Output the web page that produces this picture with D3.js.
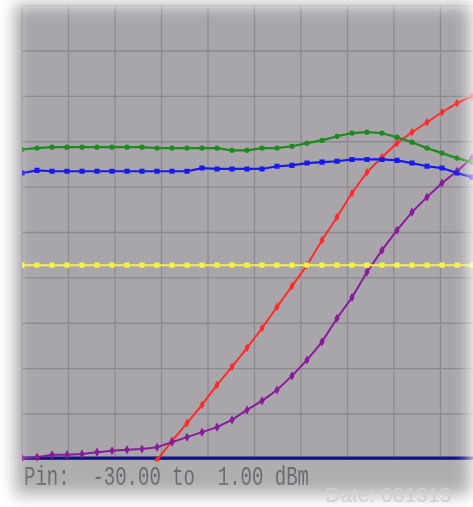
<!DOCTYPE html>
<html>
<head>
<meta charset="utf-8">
<script src="https://cdn.jsdelivr.net/npm/d3@7"></script>
<style>
  body { margin: 0; background: #fff; }
  svg { display: block; }
</style>
</head>
<body>
<div id="myChart"></div>
<script>
//----- data (y values in screen divisions, 0 = bottom line, 10 = top)

var pin = d3.range(-30, 2); // -30 ... 1 dBm, one point per dB

var redVals = [null, null, null, null, null, null, null, null, null, -0.02,
  0.41, 0.80, 1.20, 1.64, 2.04, 2.46, 2.89, 3.36, 3.82, 4.28,
  4.83, 5.34, 5.87, 6.33, 6.66, 6.97, 7.21, 7.43, 7.65, 7.85, 8.00, 8.14];

var purpleVals = [0.03, 0.05, 0.10, 0.10, 0.12, 0.16, 0.19, 0.21, 0.23, 0.27,
  0.38, 0.49, 0.60, 0.71, 0.87, 1.09, 1.29, 1.53, 1.84, 2.19,
  2.59, 3.11, 3.57, 4.13, 4.61, 5.05, 5.45, 5.78, 6.09, 6.35, 6.64, 6.86];

var greenVals = [6.83, 6.86, 6.88, 6.88, 6.88, 6.88, 6.88, 6.88, 6.88, 6.86,
  6.86, 6.86, 6.86, 6.86, 6.81, 6.81, 6.86, 6.86, 6.90, 6.97,
  7.03, 7.12, 7.19, 7.21, 7.19, 7.10, 6.99, 6.86, 6.75, 6.64, 6.55, 6.46];

var blueVals = [6.31, 6.37, 6.35, 6.35, 6.35, 6.35, 6.35, 6.35, 6.35, 6.35,
  6.35, 6.35, 6.42, 6.40, 6.40, 6.40, 6.40, 6.46, 6.48, 6.53,
  6.55, 6.57, 6.61, 6.61, 6.61, 6.59, 6.53, 6.46, 6.42, 6.31, 6.22, 6.13];

var yellowVals = pin.map(function() { return 4.28; });
var navyVals = pin.map(function() { return 0.03; });

var footer = "Pin:  -30.00 to  1.00 dBm";
var dateLabel = "Date: 081313";

//----- chart

var W = 473, H = 507;

var x = d3.scaleLinear().domain([-30, 1]).range([22, 487]);
var y = d3.scaleLinear().domain([0, 10]).range([459.4, 5.6]);

var svg = d3.select("#myChart").append("svg")
    .attr("width", W)
    .attr("height", H);

var defs = svg.append("defs");

// soft edges of the screenshot
var blur = defs.append("filter").attr("id", "soft")
    .attr("filterUnits", "userSpaceOnUse")
    .attr("x", -60).attr("y", -60).attr("width", W + 120).attr("height", H + 120);
blur.append("feGaussianBlur").attr("stdDeviation", 8);

var mask = defs.append("mask").attr("id", "edge")
    .attr("maskUnits", "userSpaceOnUse")
    .attr("x", -60).attr("y", -60).attr("width", W + 120).attr("height", H + 120);
mask.append("rect")
    .attr("x", 15).attr("y", 5)
    .attr("width", 455).attr("height", 490)
    .attr("fill", "#fff")
    .attr("filter", "url(#soft)");

defs.append("clipPath").attr("id", "plotClip")
  .append("rect")
    .attr("x", x(-30)).attr("y", y(10))
    .attr("width", x(1) - x(-30)).attr("height", y(0) - y(10) + 2);

var panel = svg.append("g").attr("mask", "url(#edge)");

panel.append("rect")
    .attr("x", 0).attr("y", 0)
    .attr("width", W).attr("height", H)
    .attr("fill", "#a9a6ab");

panel.append("rect")
    .attr("x", 0).attr("y", y(0))
    .attr("width", W).attr("height", H - y(0))
    .attr("fill", "#b0adb1");

// grid: 10 x 10 divisions
var g = panel.append("g");

g.selectAll("line.vgrid")
    .data(d3.range(0, 11))
    .enter()
    .append("line")
    .attr("class", "vgrid")
    .attr("x1", function(i) { return x(-30 + i * 3.1); })
    .attr("x2", function(i) { return x(-30 + i * 3.1); })
    .attr("y1", y(10))
    .attr("y2", y(0))
    .attr("stroke", "#8d8a8f")
    .attr("stroke-width", 1.3);

g.selectAll("line.hgrid")
    .data(d3.range(0, 11))
    .enter()
    .append("line")
    .attr("class", "hgrid")
    .attr("x1", x(-30))
    .attr("x2", x(1))
    .attr("y1", function(i) { return y(i); })
    .attr("y2", function(i) { return y(i); })
    .attr("stroke", "#8d8a8f")
    .attr("stroke-width", 1.3);

var traces = [
  { name: "navy",   vals: navyVals,   color: "#12128a", width: 3.2, shape: null },
  { name: "red",    vals: redVals,    color: "#ff2a2a", width: 2,   shape: d3.symbolDiamond, size: 22 },
  { name: "purple", vals: purpleVals, color: "#8a1a9a", width: 2,   shape: d3.symbolDiamond, size: 24 },
  { name: "yellow", vals: yellowVals, color: "#f4f43c", width: 2,   shape: d3.symbolSquare, size: 26 },
  { name: "blue",   vals: blueVals,   color: "#1818f0", width: 2.2, shape: d3.symbolSquare, size: 26 },
  { name: "green",  vals: greenVals,  color: "#1e8a1e", width: 2.2, shape: d3.symbolCircle, size: 22 }
];

var line = d3.line()
    .defined(function(d) { return d.v !== null; })
    .x(function(d) { return x(d.p); })
    .y(function(d) { return y(d.v); });

var plot = panel.append("g").attr("clip-path", "url(#plotClip)");

traces.forEach(function(t) {
  var pts = pin.map(function(p, i) { return { p: p, v: t.vals[i] }; });

  plot.append("path")
      .datum(pts)
      .attr("d", line)
      .attr("fill", "none")
      .attr("stroke", t.color)
      .attr("stroke-width", t.width);

  if (t.shape) {
    plot.selectAll("path.m-" + t.name)
        .data(pts.filter(function(d) { return d.v !== null; }))
        .enter()
        .append("path")
        .attr("class", "m-" + t.name)
        .attr("transform", function(d) { return "translate(" + x(d.p) + "," + y(d.v) + ")"; })
        .attr("d", d3.symbol().type(t.shape).size(t.size))
        .attr("fill", t.color);
  }
});

// footer text, stretched vertically like the instrument font
panel.append("text")
    .attr("transform", "translate(24,485) scale(1,1.45)")
    .attr("font-family", "Liberation Mono, monospace")
    .attr("font-size", 19)
    .attr("fill", "#6c6a6e")
    .style("white-space", "pre")
    .text(footer);

// faded date stamp in the bottom corner
svg.append("text")
    .attr("x", 325)
    .attr("y", 502)
    .attr("font-family", "Liberation Sans, sans-serif")
    .attr("font-size", 21)
    .attr("fill", "#d0d0d3")
    .text(dateLabel);
</script>
</body>
</html>
